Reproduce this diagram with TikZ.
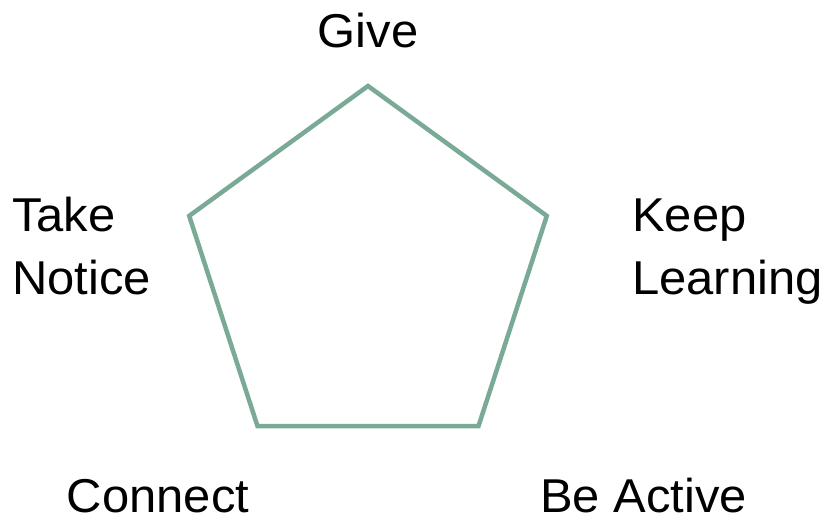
\documentclass[tikz,border=0pt]{standalone}
\usepackage{fontspec}
\setmainfont[FakeStretch=1.03]{Liberation Sans}
\usepackage{tikz}
\usetikzlibrary{positioning}
\definecolor{pentagreen}{RGB}{122,170,150}
\tikzset{
  pline/.style ={line width=4.5pt, pentagreen, line join=miter},
  plabel/.style={font=\fontsize{47.5}{63}\selectfont, inner sep=0pt, align=left},
}
\begin{document}
\begin{tikzpicture}[x=1pt, y=1pt]
  \useasboundingbox (-368,-244) rectangle (462,274);
  \foreach \i in {0,...,4} {
    \pgfmathsetmacro{\ang}{90 + 72*\i}
    \coordinate (v\i) at (\ang:188);
  }
  \draw[pline] (v0)--(v1)--(v2)--(v3)--(v4)--cycle;
  \node[plabel, anchor=base] (give) at (0,226) {Give};
  \node[plabel, anchor=base west] (notice) at (-356,-21) {Take\\Notice};
  \node[plabel, anchor=base west] (learning) at (264,-21) {Keep\\Learning};
  \node[plabel, anchor=base] (connect) at (-210,-239) {Connect};
  \node[plabel, anchor=base west] (active) at (172,-239) {Be Active};
\end{tikzpicture}
\end{document}
